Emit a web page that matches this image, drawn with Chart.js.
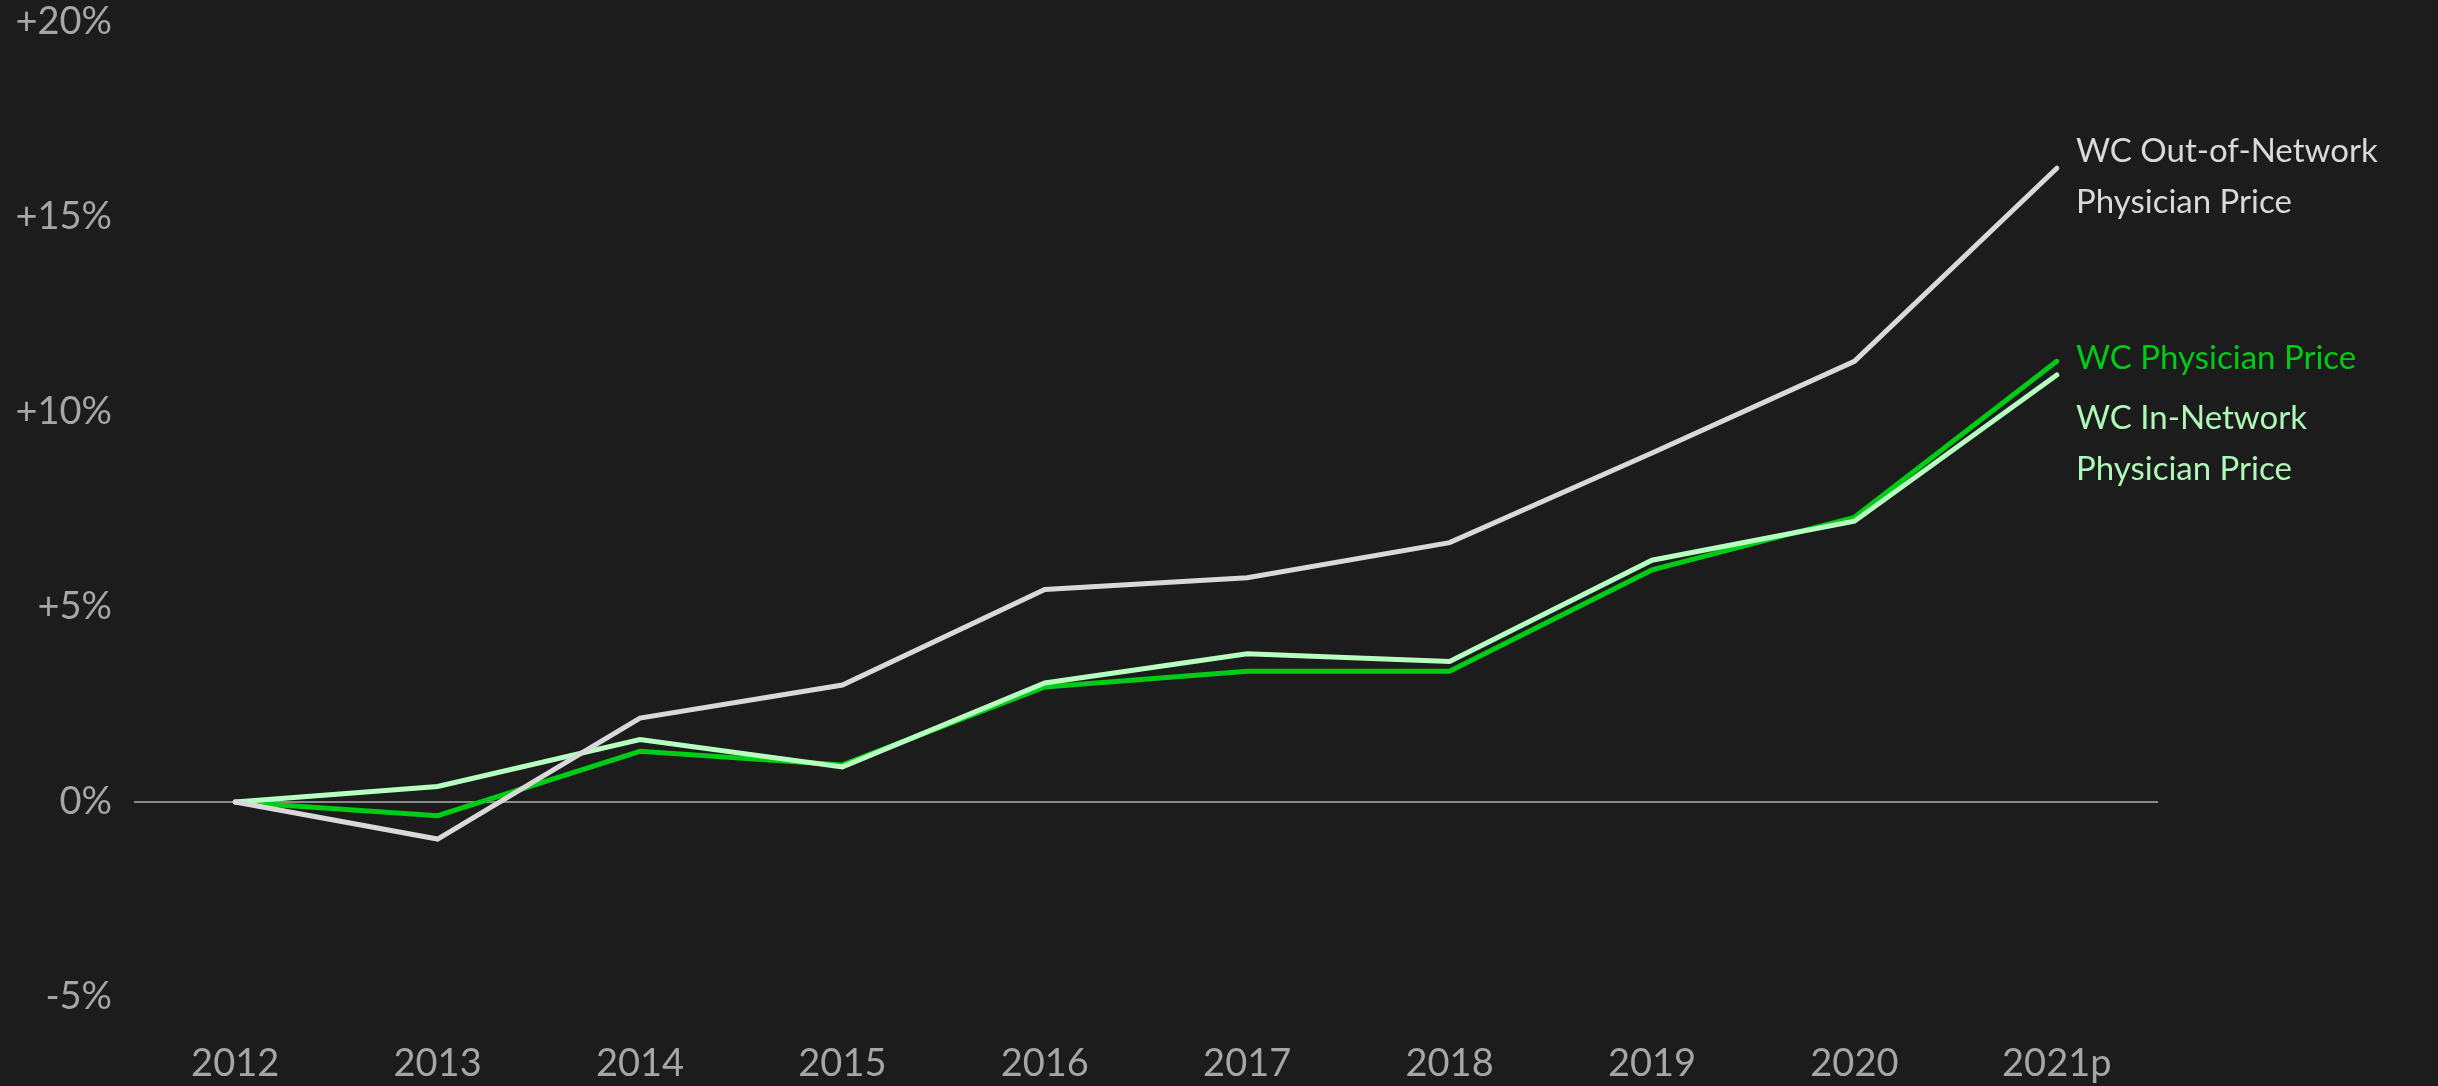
<!DOCTYPE html>
<html>
<head>
<meta charset="utf-8">
<script src="https://cdn.jsdelivr.net/npm/chart.js@4"></script>
<style>
  body { margin: 0; background: #1c1c1c; }
  canvas { display: block; }
</style>
</head>
<body>
<canvas id="myChart" width="2438" height="1086"></canvas>
<script>
const ctx = document.getElementById('myChart');

// data (% change since 2012)
const years = ['2012', '2013', '2014', '2015', '2016', '2017', '2018', '2019', '2020', '2021p'];
const outOfNetwork = [0, -0.95, 2.15, 3.0, 5.45, 5.75, 6.65, 8.95, 11.3, 16.25];
const physician = [0, -0.35, 1.3, 0.95, 2.95, 3.35, 3.35, 5.95, 7.3, 11.3];
const inNetwork = [0, 0.4, 1.6, 0.9, 3.05, 3.8, 3.6, 6.2, 7.2, 10.95];

const endLabels = [
    { lines: ['WC Out-of-Network', 'Physician Price'], color: '#d9d9d9', y: 151 },
    { lines: ['WC Physician Price'], color: '#00cc16', y: 358 },
    { lines: ['WC In-Network', 'Physician Price'], color: '#aef7b6', y: 418 }
];

const labelPlugin = {
    id: 'endLabels',
    afterDatasetsDraw(chart) {
        const c = chart.ctx;
        const x = chart.chartArea.right - 82;
        c.save();
        c.font = '33px Lato';
        c.textBaseline = 'middle';
        c.textAlign = 'left';
        endLabels.forEach(l => {
            c.fillStyle = l.color;
            l.lines.forEach((t, i) => c.fillText(t, x, l.y + i * 51));
        });
        c.restore();
    }
};

new Chart(ctx, {
    type: 'line',
    data: {
        labels: years,
        datasets: [
            { label: 'WC Out-of-Network Physician Price', data: outOfNetwork, borderColor: '#d9d9d9', order: 0 },
            { label: 'WC In-Network Physician Price', data: inNetwork, borderColor: '#b6ffc0', order: 1 },
            { label: 'WC Physician Price', data: physician, borderColor: '#00cc16', order: 2 }
        ]
    },
    options: {
        responsive: false,
        animation: false,
        elements: {
            line: { borderWidth: 5, tension: 0, borderCapStyle: 'round', borderJoinStyle: 'miter' },
            point: { radius: 0 }
        },
        layout: { padding: { top: 22, right: 280 } },
        plugins: { legend: { display: false }, tooltip: { enabled: false } },
        scales: {
            x: {
                offset: true,
                grid: { display: false },
                border: { display: false },
                ticks: {
                    color: '#a6a6a6',
                    font: { family: 'Lato', size: 38 },
                    padding: 36,
                    maxRotation: 0
                },
                afterFit(s) { s.height = 89; }
            },
            y: {
                min: -5,
                max: 20,
                border: { display: false },
                grid: {
                    drawTicks: false,
                    lineWidth: 2,
                    color: c => c.tick && c.tick.value === 0 ? '#8a8a8a' : 'transparent'
                },
                ticks: {
                    stepSize: 5,
                    color: '#a6a6a6',
                    font: { family: 'Lato', size: 38 },
                    padding: 22,
                    callback: v => (v > 0 ? '+' : '') + v + '%'
                },
                afterFit(s) {
                    s.width = 134;
                    s.paddingTop = 0;
                    s.paddingBottom = 0;
                }
            }
        }
    },
    plugins: [labelPlugin]
});
</script>
</body>
</html>
